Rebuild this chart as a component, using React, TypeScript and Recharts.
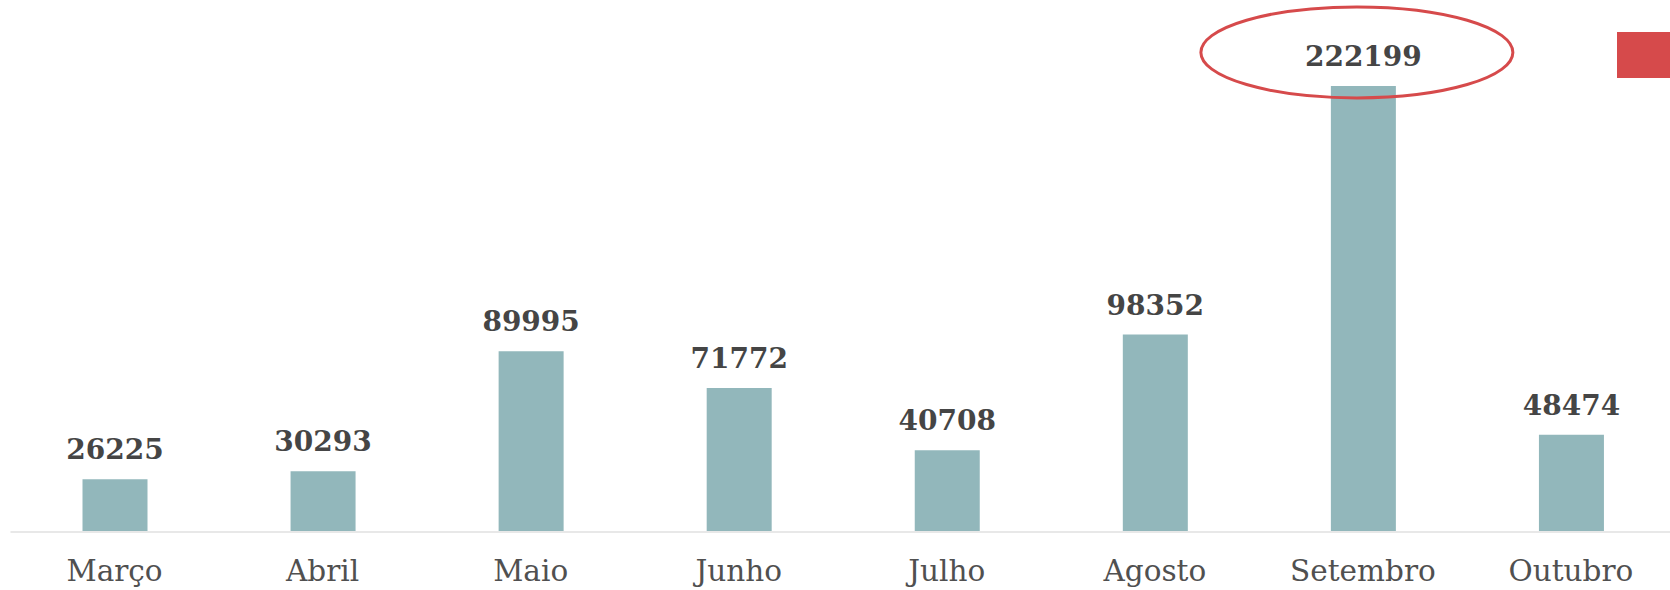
import { Bar, BarChart, LabelList, XAxis, YAxis } from "recharts";

const months = ["Março", "Abril", "Maio", "Junho", "Julho", "Agosto", "Setembro", "Outubro"];
const totals = [26225, 30293, 89995, 71772, 40708, 98352, 222199, 48474];

const data = months.map((month, i) => ({ month, total: totals[i] }));
const peak = Math.max(...totals);

const BAR_COLOR = "#92b7bb";
const ACCENT = "#d64a4b";
const LABEL_FONT = "'DejaVu Serif', serif";

function ValueLabel(props: any) {
  const { x, y, width, value } = props;
  const cx = Number(x) + Number(width) / 2;
  const baseline = Number(y) - 20;
  return (
    <g>
      {value === peak && (
        <ellipse
          cx={cx - 6.5}
          cy={baseline - 13.5}
          rx={156}
          ry={45.5}
          fill="none"
          stroke={ACCENT}
          strokeWidth={3}
        />
      )}
      <text
        x={cx}
        y={baseline}
        textAnchor="middle"
        fontFamily={LABEL_FONT}
        fontWeight={700}
        fontSize={28}
        fill="#454545"
      >
        {value}
      </text>
    </g>
  );
}

function MonthTick(props: any) {
  const { x, y, payload } = props;
  return (
    <text
      x={x}
      y={y}
      textAnchor="middle"
      fontFamily={LABEL_FONT}
      fontSize={29.5}
      fill="#505050"
    >
      {payload.value}
    </text>
  );
}

export default function App() {
  return (
    <div
      style={{
        position: "fixed",
        left: 0,
        top: 0,
        width: 1670,
        height: 590,
        overflow: "hidden",
        background: "white",
      }}
    >
      <BarChart
        width={1680}
        height={590}
        data={data}
        margin={{ top: 12, right: 5, left: 10.5, bottom: 0 }}
      >
        <XAxis
          dataKey="month"
          height={58}
          tickLine={false}
          axisLine={{ stroke: "#e8e8e8", strokeWidth: 2 }}
          tick={<MonthTick />}
          tickSize={0}
          tickMargin={49}
          interval={0}
        />
        <YAxis hide domain={[0, 259000]} />
        <Bar dataKey="total" fill={BAR_COLOR} barSize={65} isAnimationActive={false}>
          <LabelList dataKey="total" content={<ValueLabel />} />
        </Bar>
      </BarChart>
      <div
        style={{
          position: "absolute",
          left: 1617,
          top: 32,
          width: 60,
          height: 46,
          background: ACCENT,
        }}
      />
    </div>
  );
}
